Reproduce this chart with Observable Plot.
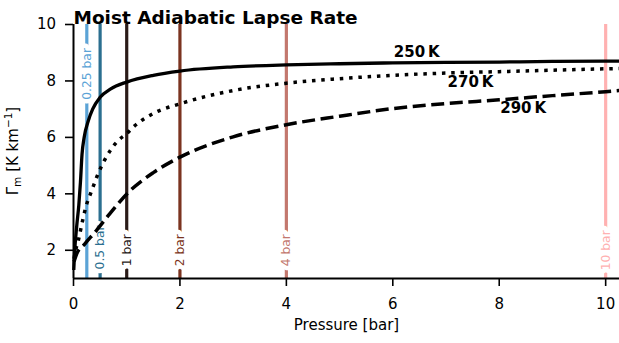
<!DOCTYPE html>
<html>
<head>
<meta charset="utf-8">
<script src="https://cdn.jsdelivr.net/npm/d3@7"></script>
<script src="https://cdn.jsdelivr.net/npm/@observablehq/plot@0.6"></script>
<style>
  html, body { margin: 0; padding: 0; background: white; }
  svg { display: block; }
</style>
</head>
<body>
<div id="chart"></div>
<script>
// ---- data ----
const chartTitle = "Moist Adiabatic Lapse Rate";
const xLabel = "Pressure [bar]";

const pressure250 = [0.005, 0.02, 0.06, 0.1, 0.13, 0.16, 0.2, 0.28, 0.36, 0.5, 0.7, 1.0, 1.5, 2, 3, 4, 5, 6, 7, 8, 9, 10, 10.26];
const gamma250    = [1.3,   1.9,  2.85, 3.6, 4.4,  5.4,  6.0, 6.6,  7.0,  7.42, 7.72, 7.96, 8.2, 8.35, 8.5, 8.57, 8.61, 8.64, 8.66, 8.67, 8.69, 8.7, 8.7];

const pressure270 = [0.01, 0.04, 0.09, 0.15, 0.23, 0.34, 0.46, 0.6, 0.71, 0.84, 1.0, 1.12, 1.5, 2, 3, 4, 5, 6, 7, 8, 9, 10, 10.26];
const gamma270    = [1.7,  2.0,  2.34, 2.87, 3.52, 4.1,  4.7,  5.25, 5.59, 5.89, 6.13, 6.36, 6.85, 7.19, 7.66, 7.92, 8.08, 8.2, 8.28, 8.33, 8.38, 8.43, 8.44];

const pressure290 = [0.01, 0.06, 0.21, 0.43, 0.68, 1.03, 1.5, 2, 3, 4, 5, 6, 7, 8, 9, 10, 10.26];
const gamma290    = [1.6,  1.87, 2.22, 2.7,  3.29, 4.05, 4.75, 5.3, 6.02, 6.45, 6.75, 7.02, 7.2, 7.33, 7.48, 7.62, 7.66];

const tempLabels = ["250\u2009K", "270\u2009K", "290\u2009K"];
const tempLabelX = [6.45, 7.46, 8.45];
const tempLabelY = [9.01, 7.97, 7.03];

const barLevels = [0.25, 0.5, 1, 2, 4, 10];
const barLabels = ["0.25 bar", "0.5 bar", "1 bar", "2 bar", "4 bar", "10 bar"];
const barColors = ["#5ba3d6", "#2b6f90", "#2a1b18", "#7b3420", "#c3786e", "#ffb1b1"];
const barLabelY = [8.25, 2.1, 2.0, 2.0, 2.0, 2.0];

const xTicks = [0, 2, 4, 6, 8, 10];
const yTicks = [2, 4, 6, 8, 10];

// ---- build tables ----
const s250 = pressure250.map((p, i) => ({p, g: gamma250[i]}));
const s270 = pressure270.map((p, i) => ({p, g: gamma270[i]}));
const s290 = pressure290.map((p, i) => ({p, g: gamma290[i]}));
const bars = barLevels.map((p, i) => ({p, label: barLabels[i], color: barColors[i], ly: barLabelY[i]}));
const temps = tempLabels.map((t, i) => ({t, x: tempLabelX[i], y: tempLabelY[i]}));

const font = "DejaVu Sans";

const chart = Plot.plot({
  width: 619,
  height: 343,
  marginTop: 24,
  marginLeft: 73,
  marginRight: 0,
  marginBottom: 65,
  x: {domain: [0, 10.26]},
  y: {domain: [1, 10]},
  color: {type: "identity"},
  style: {fontFamily: font, fontSize: "15px", color: "black", background: "white", overflow: "visible"},
  marks: [
    Plot.ruleX(bars, {x: "p", stroke: "color", strokeWidth: 3.2}),
    Plot.text(bars, {x: "p", y: "ly", text: "label", fill: "color", rotate: -90, fontSize: 12.3,
      textAnchor: "middle", stroke: "white", strokeWidth: 9, paintOrder: "stroke"}),
    Plot.line(s250, {x: "p", y: "g", stroke: "black", strokeWidth: 3.3, curve: "monotone-x", strokeLinecap: "butt"}),
    Plot.line(s270, {x: "p", y: "g", stroke: "black", strokeWidth: 3.5, curve: "monotone-x", strokeLinecap: "butt", strokeDasharray: "3.5,5.8"}),
    Plot.line(s290, {x: "p", y: "g", stroke: "black", strokeWidth: 3.5, curve: "monotone-x", strokeLinecap: "butt", strokeDasharray: "13,5.6"}),
    Plot.text(temps, {x: "x", y: "y", text: "t", fontWeight: "bold", fontSize: 15, fill: "black"}),
    Plot.axisX({ticks: xTicks, tickSize: 8, tickPadding: 11.5, strokeWidth: 1.6, label: null, fontSize: 15}),
    Plot.axisY({ticks: yTicks, tickSize: 8, tickPadding: 9.5, strokeWidth: 1.6, label: null, fontSize: 15}),
    Plot.ruleY([1], {stroke: "black", strokeWidth: 2}),
    Plot.ruleX([0], {stroke: "black", strokeWidth: 2}),
    Plot.text([chartTitle], {frameAnchor: "top-left", dy: -14, textAnchor: "start", fontWeight: "bold", fontSize: 18.5, fill: "black"}),
    Plot.text([xLabel], {frameAnchor: "bottom", dy: 51, fontSize: 15, fill: "black"})
  ]
});

document.getElementById("chart").appendChild(chart);

// y-axis label with subscript and superscript
const svg = d3.select(chart);
const yl = svg.append("text")
  .attr("transform", "translate(18,151) rotate(-90)")
  .attr("text-anchor", "middle")
  .attr("font-family", font)
  .attr("font-size", 15)
  .attr("fill", "black");
yl.append("tspan").text("\u0393");
yl.append("tspan").attr("font-size", 10.5).attr("dy", 3).text("m");
yl.append("tspan").attr("dy", -3).text(" [K km");
yl.append("tspan").attr("font-size", 10.5).attr("dy", -6).text("\u22121");
yl.append("tspan").attr("dy", 6).text("]");
</script>
</body>
</html>
